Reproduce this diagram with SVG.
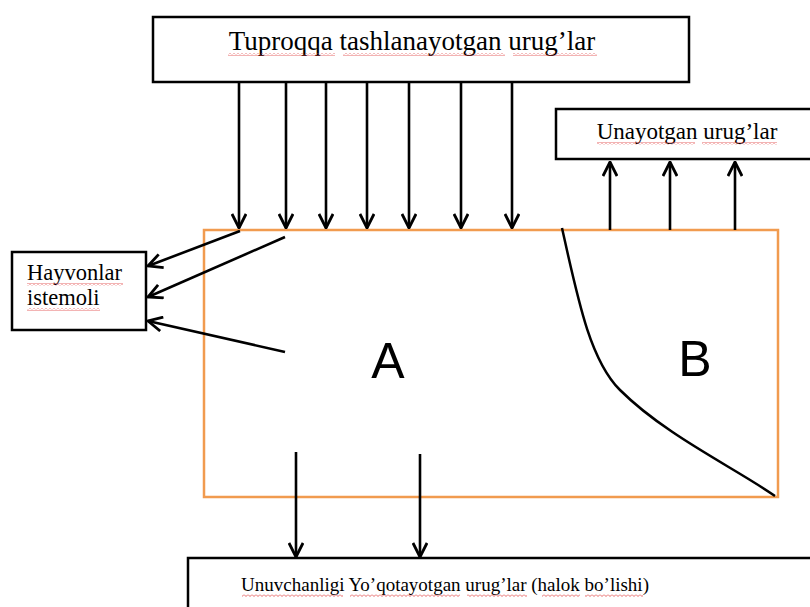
<svg xmlns="http://www.w3.org/2000/svg" width="810" height="607" viewBox="0 0 810 607">
<defs>
<style>
.box{fill:#fff;stroke:#000;stroke-width:2.5}
.lbl{font-family:"Liberation Serif",serif;fill:#000}
.big{font-family:"Liberation Sans",Arial,sans-serif;font-size:50px;fill:#000}
.arr{stroke:#000;stroke-width:2.6;fill:none;marker-end:url(#ah)}
.sq{fill:url(#squig)}
</style>
<pattern id="squig" width="4" height="3" patternUnits="userSpaceOnUse">
<path d="M0,0.5 L2,2.5 L4,0.5" fill="none" stroke="#e04040" stroke-width="0.8"/>
</pattern>
<marker id="ah" viewBox="0 0 12 12" refX="11" refY="6" markerWidth="6.5" markerHeight="6.5" markerUnits="strokeWidth" orient="auto">
<polyline points="1,1 11,6 1,11" fill="none" stroke="#000" stroke-width="2"/>
</marker>
</defs>
<rect width="810" height="607" fill="#fff"/>
<g id="field">
<rect x="204" y="230" width="574" height="267" fill="none" stroke="#F19B4F" stroke-width="2.5"/>
<path d="M562,228 C578,300 590,360 620,390 C665,435 735,468 775,496" fill="none" stroke="#000" stroke-width="2.5"/>
<text class="big" x="388" y="378" text-anchor="middle">A</text>
<text class="big" x="695" y="376" text-anchor="middle">B</text>
</g>
<g id="sown">
<rect class="box" x="153" y="17" width="536" height="65"/>
<text class="lbl" x="412" y="50" font-size="27" text-anchor="middle">Tuproqqa tashlanayotgan urug’lar</text>
<rect class="sq" x="228" y="53" width="107" height="3"/>
<rect class="sq" x="343" y="53" width="162" height="3"/>
<rect class="sq" x="513" y="53" width="84" height="3"/>
</g>
<g id="germinating">
<rect class="box" x="556" y="109" width="260" height="50"/>
<text class="lbl" x="687" y="139" font-size="23" text-anchor="middle">Unayotgan urug’lar</text>
<rect class="sq" x="597" y="142" width="98" height="3"/>
<rect class="sq" x="702" y="142" width="75" height="3"/>
</g>
<g id="animals">
<rect class="box" x="12" y="252" width="134" height="78"/>
<text class="lbl" x="27" y="280" font-size="22.5">Hayvonlar</text>
<text class="lbl" x="27" y="305" font-size="22.5">istemoli</text>
<rect class="sq" x="27" y="283" width="96" height="3"/>
<rect class="sq" x="27" y="308" width="73" height="3"/>
</g>
<g id="lost">
<rect class="box" x="188" y="558" width="630" height="60"/>
<text class="lbl" x="445" y="591" font-size="19" text-anchor="middle">Unuvchanligi Yo’qotayotgan urug’lar (halok bo’lishi)</text>
<rect class="sq" x="242" y="594" width="101" height="3"/>
<rect class="sq" x="350" y="594" width="110" height="3"/>
<rect class="sq" x="467" y="594" width="60" height="3"/>
<rect class="sq" x="542" y="594" width="38" height="3"/>
<rect class="sq" x="585" y="594" width="58" height="3"/>
</g>
<g id="connectors">
<line class="arr" x1="239" y1="83" x2="239" y2="228"/>
<line class="arr" x1="286" y1="83" x2="286" y2="228"/>
<line class="arr" x1="326" y1="83" x2="326" y2="228"/>
<line class="arr" x1="367" y1="83" x2="367" y2="228"/>
<line class="arr" x1="409" y1="83" x2="409" y2="228"/>
<line class="arr" x1="461" y1="83" x2="461" y2="228"/>
<line class="arr" x1="512" y1="83" x2="512" y2="228"/>
<line class="arr" x1="610" y1="230" x2="610" y2="162"/>
<line class="arr" x1="670" y1="230" x2="670" y2="162"/>
<line class="arr" x1="735" y1="230" x2="735" y2="162"/>
<line class="arr" x1="240" y1="231" x2="148" y2="266"/>
<line class="arr" x1="285" y1="237" x2="148" y2="297"/>
<line class="arr" x1="285" y1="352" x2="148" y2="321"/>
<line class="arr" x1="296" y1="452" x2="296" y2="557"/>
<line class="arr" x1="420" y1="454" x2="420" y2="557"/>
</g>
</svg>
